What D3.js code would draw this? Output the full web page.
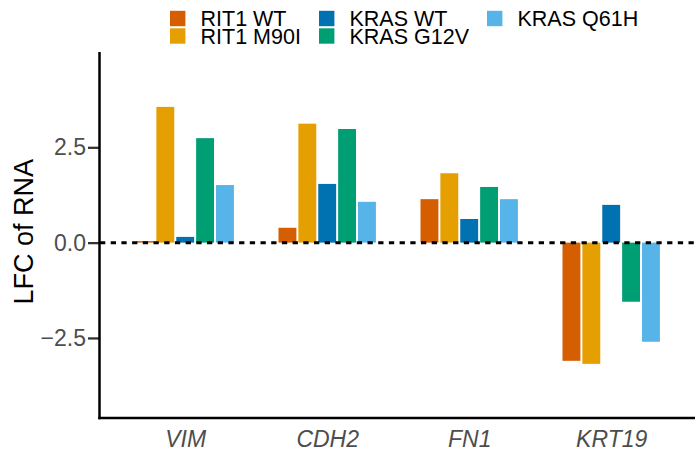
<!DOCTYPE html>
<html>
<head>
<meta charset="utf-8">
<script src="https://cdn.jsdelivr.net/npm/d3@7"></script>
<style>
  html, body { margin: 0; padding: 0; background: #fff; }
  svg { display: block; font-family: "Liberation Sans", Arial, Helvetica, sans-serif; }
</style>
</head>
<body>
<svg id="chart" width="695" height="459"></svg>
<script>
// ---- data ----
const genes = ["VIM", "CDH2", "FN1", "KRT19"];
const seriesNames = ["RIT1 WT", "RIT1 M90I", "KRAS WT", "KRAS G12V", "KRAS Q61H"];
const seriesColors = ["#D55E00", "#E69F00", "#0072B2", "#009E73", "#56B4E9"];
const rit1WT   = [0.04, 0.39, 1.14, -3.10];
const rit1M90I = [3.56, 3.12, 1.82, -3.18];
const krasWT   = [0.15, 1.54, 0.62, 0.99];
const krasG12V = [2.74, 2.98, 1.46, -1.55];
const krasQ61H = [1.51, 1.07, 1.14, -2.60];
const yTicks = [-2.5, 0, 2.5];
const yTickLabels = ["\u22122.5", "0.0", "2.5"];

const seriesValues = [rit1WT, rit1M90I, krasWT, krasG12V, krasQ61H];
const rows = [];
genes.forEach((g, gi) => seriesNames.forEach((s, si) => rows.push({gene: g, series: s, value: seriesValues[si][gi]})));

// ---- layout ----
const svg = d3.select("#chart");
const panel = {left: 100, right: 696.4, top: 52, bottom: 418};

const x0 = d3.scalePoint().domain(genes).range([panel.left, panel.right]).padding(0.6);
const step = x0.step();
const x1 = d3.scaleBand().domain(seriesNames).range([-0.35 * step, 0.35 * step]).paddingInner(0.1).paddingOuter(0.05);
const y = d3.scaleLinear().domain([-4.6, 5.0]).range([panel.bottom, panel.top]);
const color = d3.scaleOrdinal().domain(seriesNames).range(seriesColors);

// bars
svg.append("g").selectAll("rect").data(rows).join("rect")
  .attr("x", d => x0(d.gene) + x1(d.series))
  .attr("width", x1.bandwidth())
  .attr("y", d => y(Math.max(0, d.value)))
  .attr("height", d => Math.abs(y(d.value) - y(0)))
  .attr("fill", d => color(d.series));

// zero dashed line
svg.append("line")
  .attr("x1", panel.left).attr("x2", 695)
  .attr("y1", y(0)).attr("y2", y(0))
  .attr("stroke", "#000").attr("stroke-width", 3)
  .attr("stroke-dasharray", "5.3,5.4");

// y axis
const yAxis = d3.axisLeft(y).tickValues(yTicks).tickFormat((d, i) => yTickLabels[i]).tickSize(11.5).tickPadding(2);
const gy = svg.append("g").attr("transform", `translate(${panel.left - 0.5},0)`).call(yAxis);
gy.select(".domain").remove();
gy.selectAll(".tick line").attr("stroke", "#333").attr("stroke-width", 2.3);
gy.selectAll(".tick text").attr("fill", "#4D4D4D").style("font-size", "23px").attr("font-family", null);

svg.append("line")
  .attr("x1", panel.left - 0.5).attr("x2", panel.left - 0.5)
  .attr("y1", panel.top).attr("y2", panel.bottom + 1.2)
  .attr("stroke", "#000").attr("stroke-width", 2.5);

// x axis
svg.append("line")
  .attr("x1", panel.left - 1.7).attr("x2", 695)
  .attr("y1", panel.bottom).attr("y2", panel.bottom)
  .attr("stroke", "#000").attr("stroke-width", 2.5);

const xAxis = d3.axisBottom(x0).tickSize(0).tickPadding(0);
const gx = svg.append("g").attr("transform", `translate(0,${panel.bottom})`).call(xAxis);
gx.select(".domain").remove();
gx.selectAll(".tick text")
  .attr("y", 28.7).attr("dy", null)
  .attr("fill", "#4D4D4D").style("font-size", "23px").style("font-style", "italic").attr("font-family", null);

// y title
svg.append("text")
  .attr("transform", "translate(33.3,231.7) rotate(-90)")
  .attr("text-anchor", "middle")
  .style("font-size", "27px").attr("fill", "#000")
  .text("LFC of RNA");

// legend
const legendPos = [
  {x: 170, row: 0}, {x: 170, row: 1},
  {x: 319, row: 0}, {x: 319, row: 1},
  {x: 487, row: 0}
];
const lg = svg.append("g");
seriesNames.forEach((s, i) => {
  const p = legendPos[i];
  const ky = p.row === 0 ? 10.8 : 28.3;
  lg.append("rect").attr("x", p.x).attr("y", ky).attr("width", 15.4).attr("height", 15.4).attr("fill", color(s));
  lg.append("text").attr("x", p.x + 30.5).attr("y", ky + 15.3)
    .style("font-size", "21.5px").attr("fill", "#000").text(s);
});
</script>
</body>
</html>
